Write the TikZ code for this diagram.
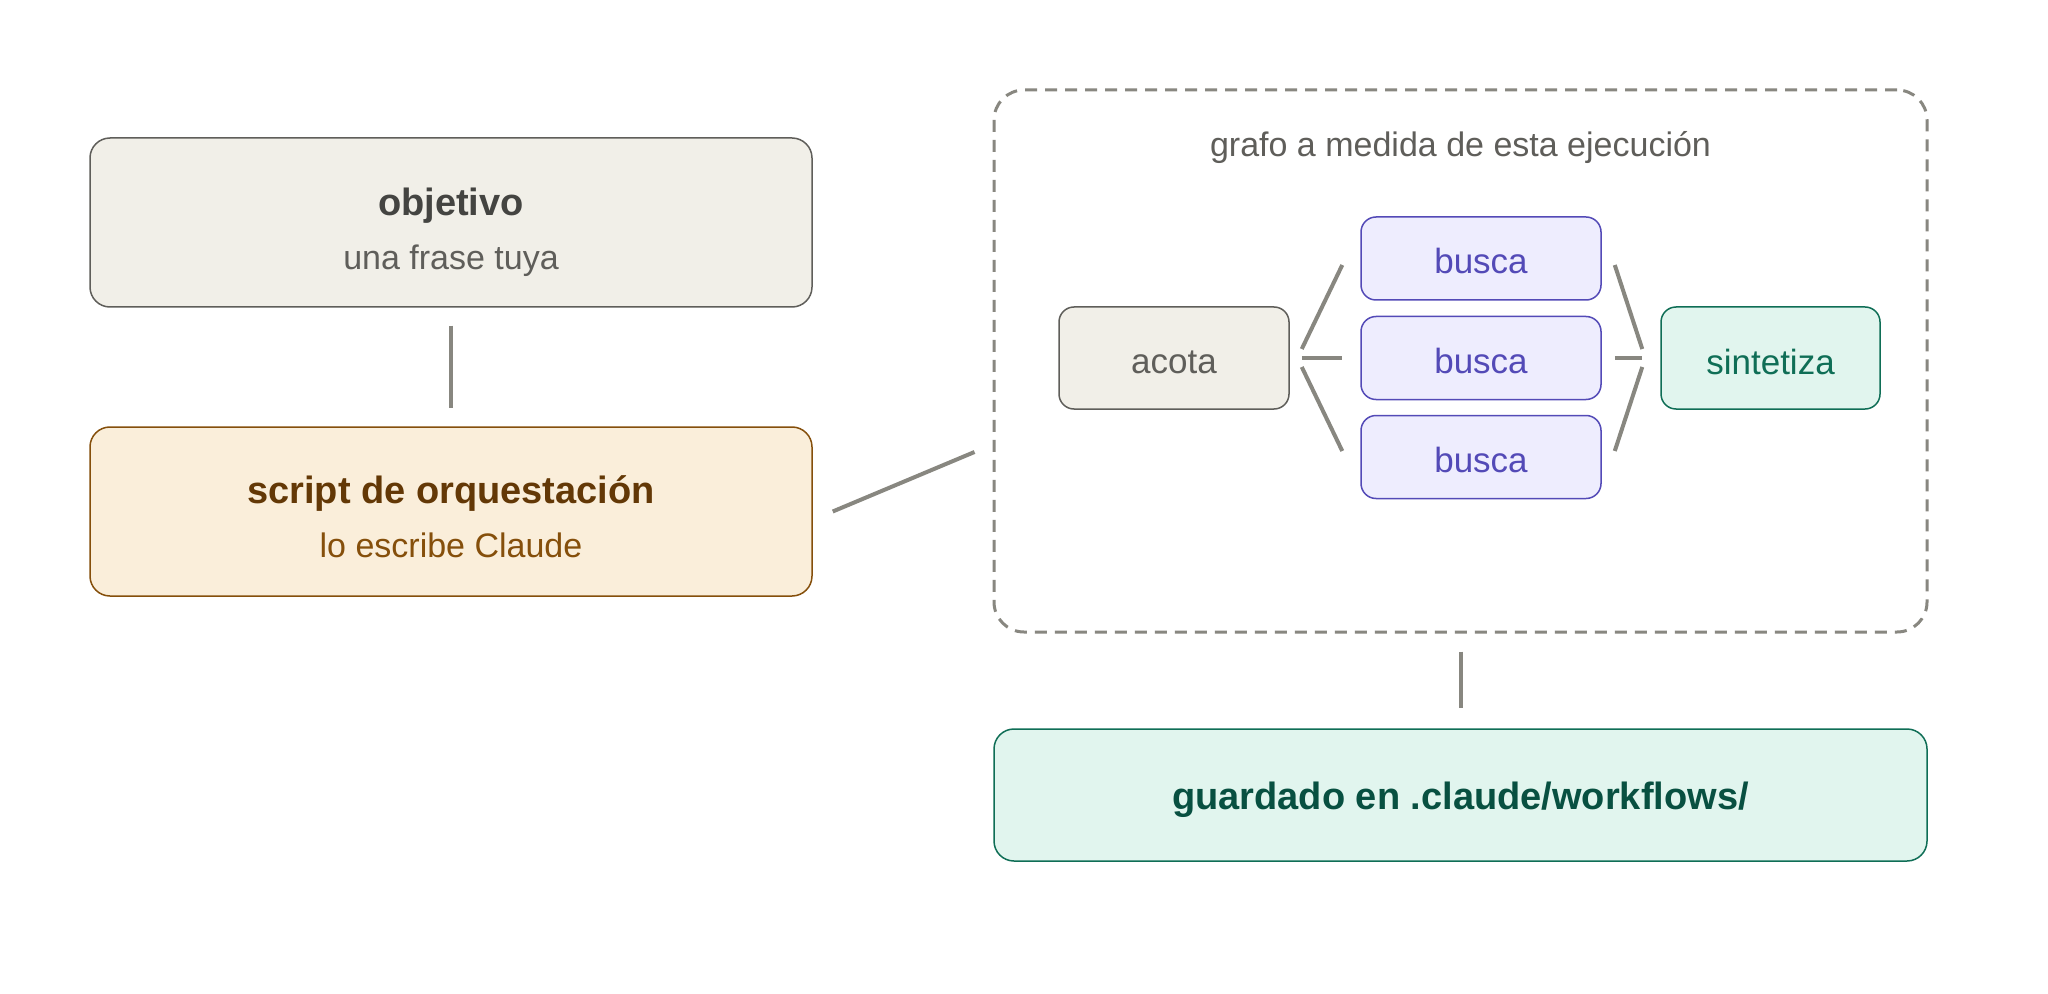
\documentclass[tikz,border=0pt]{standalone}
\usepackage{fontspec}
\setmainfont{Liberation Sans}
\usetikzlibrary{calc}
\definecolor{conn}{HTML}{888780}
\definecolor{objfill}{HTML}{F1EFE8}
\definecolor{objbord}{HTML}{5F5E5A}
\definecolor{objtitle}{HTML}{444441}
\definecolor{objsub}{HTML}{5F5E5A}
\definecolor{scrfill}{HTML}{FAEEDA}
\definecolor{scrbord}{HTML}{854F0B}
\definecolor{scrtitle}{HTML}{633806}
\definecolor{scrsub}{HTML}{854F0B}
\definecolor{busfill}{HTML}{EEEDFE}
\definecolor{busbord}{HTML}{534AB7}
\definecolor{bustext}{HTML}{534AB7}
\definecolor{grnfill}{HTML}{E1F5EE}
\definecolor{grnbord}{HTML}{0F6E56}
\definecolor{grntext}{HTML}{0F6E56}
\definecolor{grndark}{HTML}{085041}
\newcommand{\lowered}[2]{\raisebox{-#1}[\height][\depth]{#2}}
\tikzset{
  bigbox/.style={draw, line width=0.75pt, rounded corners=10pt, inner sep=0pt,
    minimum width=361pt, align=center, font=\fontsize{17}{27}\selectfont},
  smallbox/.style={draw, line width=0.75pt, rounded corners=7.5pt, inner sep=0pt,
    minimum height=41.5pt, font=\fontsize{17.5}{21}\selectfont},
  link/.style={draw=conn, line width=2pt},
}
\begin{document}
\begin{tikzpicture}[x=0.5pt,y=-0.5pt]
\useasboundingbox[fill=white] (0,0) rectangle (2048,994);

% left column
\node[bigbox, fill=objfill, draw=objbord, minimum height=84.5pt] (obj) at (451,222.5)
  {\lowered{4.5pt}{\begin{tabular}{@{}c@{}}{\fontsize{19}{27}\selectfont\bfseries\color{objtitle}objetivo}\\{\color{objsub}una frase tuya}\end{tabular}}};
\node[bigbox, fill=scrfill, draw=scrbord, minimum height=84.5pt] (scr) at (451,511.5)
  {\lowered{4pt}{\begin{tabular}{@{}c@{}}{\fontsize{19}{27}\selectfont\bfseries\color{scrtitle}script de orquestación}\\{\color{scrsub}lo escribe Claude}\end{tabular}}};

% dashed frame
\node[draw=conn, dash pattern=on 6pt off 4pt, line width=1.5pt, rounded corners=15pt,
  minimum width=466.5pt, minimum height=271pt, inner sep=0pt] (frame) at (1460.5,361) {};
\node[font=\fontsize{17}{21}\selectfont, text=objsub, inner sep=0pt, anchor=base] (ftitle)
  at ($(frame.north)+(0,68)$) {grafo a medida de esta ejecución};

% inner graph
\node[smallbox, fill=objfill, draw=objbord, text=objsub, minimum width=115pt, minimum height=51pt] (acota) at (1174,358) {\lowered{2pt}{acota}};
\node[smallbox, fill=busfill, draw=busbord, text=bustext, minimum width=120pt] (b1) at (1481,258.5) {\lowered{1.3pt}{busca}};
\node[smallbox, fill=busfill, draw=busbord, text=bustext, minimum width=120pt] (b2) at (1481,358) {\lowered{1.3pt}{busca}};
\node[smallbox, fill=busfill, draw=busbord, text=bustext, minimum width=120pt] (b3) at (1481,457) {\lowered{1.3pt}{busca}};
\node[smallbox, fill=grnfill, draw=grnbord, text=grntext, minimum width=109.5pt, minimum height=51pt] (sint) at (1770.5,358) {\lowered{2pt}{sintetiza}};

% bottom
\node[bigbox, fill=grnfill, draw=grnbord, minimum width=466.5pt, minimum height=66pt] (guard) at (1460.5,795)
  {\lowered{2.5pt}{\fontsize{19}{27}\selectfont\bfseries\color{grndark}guardado en .claude/workflows/}};

% connectors
\draw[link, shorten <=9pt, shorten >=9pt] (obj.south) -- (scr.north);
\draw[link, shorten <=9pt, shorten >=10pt] (frame.south) -- (guard.north);
\coordinate (sa) at ($(scr.east)+(20,0)$);
\coordinate (sb) at ($(frame.west)+(-18,91)$);
\draw[link] (sa) -- (sb);

\draw[link] ($(acota.east)+(12,-9)$) -- ($(b1.west)+(-18,6.5)$);
\draw[link] ($(acota.east)+(12,0)$) -- ($(b2.west)+(-18,0)$);
\draw[link] ($(acota.east)+(12,9)$) -- ($(b3.west)+(-18,-6)$);
\draw[link] ($(b1.east)+(13,6.5)$) -- ($(sint.west)+(-18,-9)$);
\draw[link] ($(b2.east)+(13,0)$) -- ($(sint.west)+(-18,0)$);
\draw[link] ($(b3.east)+(13,-6)$) -- ($(sint.west)+(-18,9)$);
\end{tikzpicture}
\end{document}
